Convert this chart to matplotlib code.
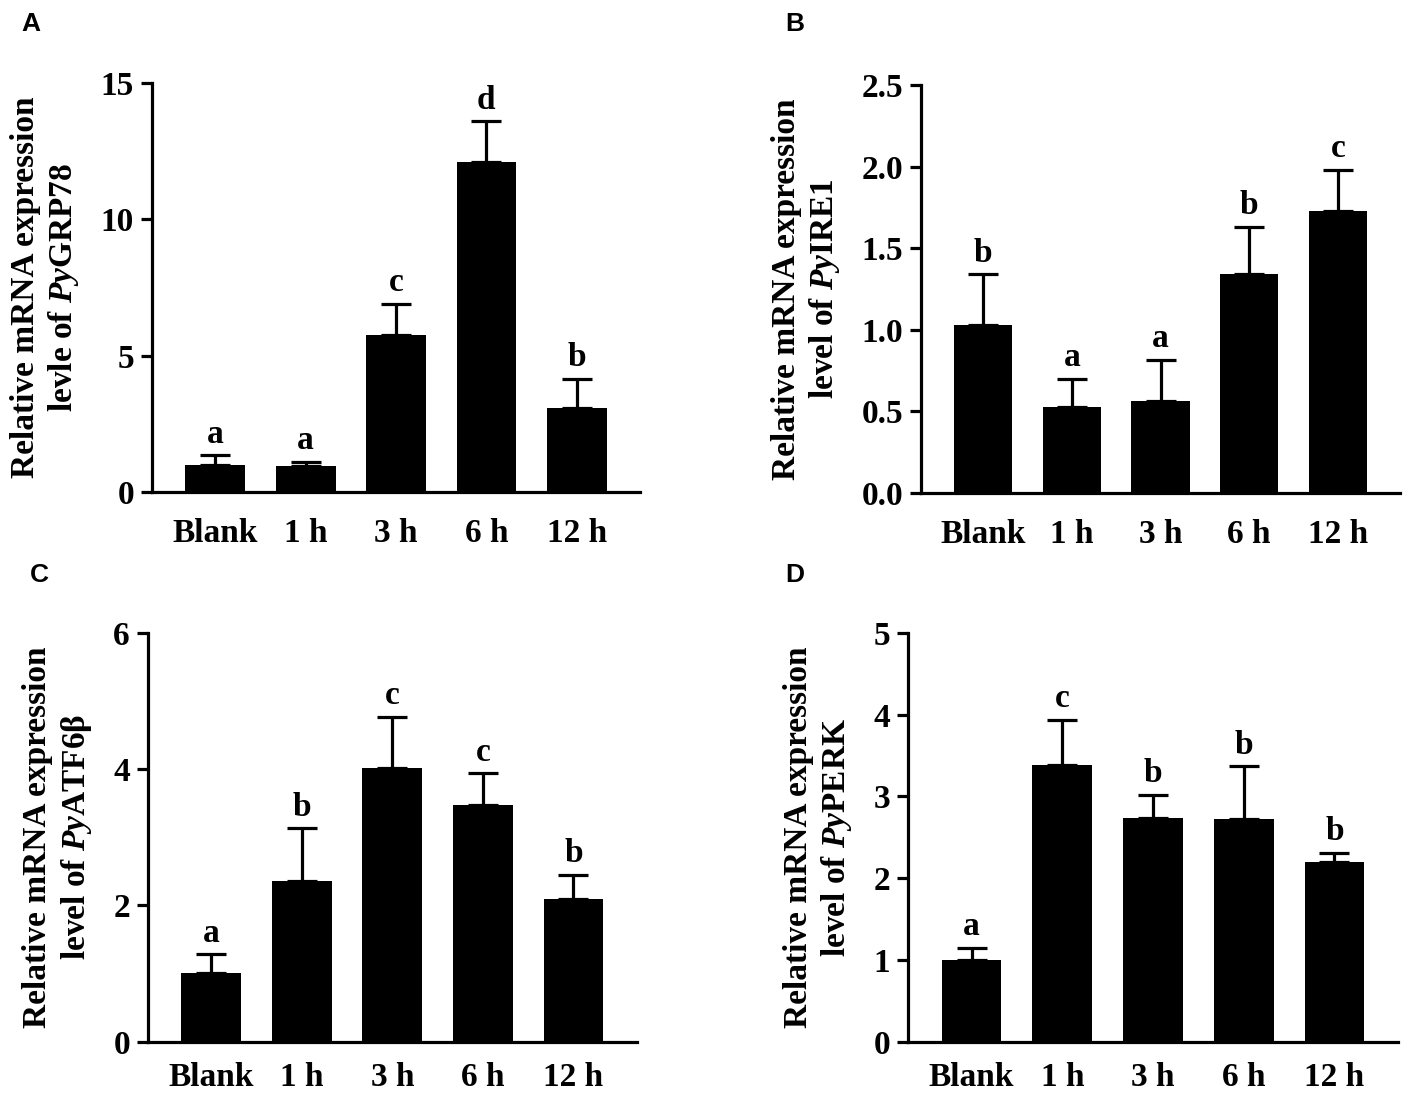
import matplotlib
matplotlib.use("Agg")
import matplotlib.pyplot as plt
import numpy as np

plt.rcParams['font.family'] = ['Liberation Serif', 'DejaVu Serif']
plt.rcParams['font.weight'] = 'bold'
plt.rcParams['mathtext.fontset'] = 'custom'
plt.rcParams['mathtext.it'] = 'Liberation Serif:italic:bold'
plt.rcParams['mathtext.rm'] = 'Liberation Serif:bold'
plt.rcParams['mathtext.bf'] = 'Liberation Serif:bold'

categories = ["Blank", "1 h", "3 h", "6 h", "12 h"]

grp78_mean = [1.0, 0.95, 5.75, 12.1, 3.1]
grp78_err = [0.35, 0.15, 1.15, 1.5, 1.05]
grp78_sig = ["a", "a", "c", "d", "b"]

ire1_mean = [1.03, 0.525, 0.565, 1.34, 1.73]
ire1_err = [0.31, 0.175, 0.25, 0.29, 0.25]
ire1_sig = ["b", "a", "a", "b", "c"]

atf6_mean = [1.0, 2.36, 4.01, 3.47, 2.1]
atf6_err = [0.28, 0.77, 0.76, 0.47, 0.35]
atf6_sig = ["a", "b", "c", "c", "b"]

perk_mean = [1.0, 3.39, 2.74, 2.72, 2.2]
perk_err = [0.15, 0.55, 0.28, 0.65, 0.11]
perk_sig = ["a", "c", "b", "b", "b"]

panels = [
    dict(letter="A", mean=grp78_mean, err=grp78_err, sig=grp78_sig,
         ylim=15, ticks=[0, 5, 10, 15], fmt="{:.0f}",
         ylabel="Relative mRNA expression\nlevle of $\\mathit{Py}$GRP78",
         rect=[0.1073, 0.5531, 0.3444, 0.3715], lpos=(0.022, 0.978), xpad=19),
    dict(letter="B", mean=ire1_mean, err=ire1_err, sig=ire1_sig,
         ylim=2.5, ticks=[0, 0.5, 1.0, 1.5, 2.0, 2.5], fmt="{:.1f}",
         ylabel="Relative mRNA expression\nlevel of $\\mathit{Py}$IRE1",
         rect=[0.650, 0.5522, 0.338, 0.3706], lpos=(0.561, 0.978), xpad=19),
    dict(letter="C", mean=atf6_mean, err=atf6_err, sig=atf6_sig,
         ylim=6, ticks=[0, 2, 4, 6], fmt="{:.0f}",
         ylabel="Relative mRNA expression\nlevel of $\\mathit{Py}$ATF6β",
         rect=[0.1044, 0.054, 0.345, 0.3711], lpos=(0.028, 0.478), xpad=15),
    dict(letter="D", mean=perk_mean, err=perk_err, sig=perk_sig,
         ylim=5, ticks=[0, 1, 2, 3, 4, 5], fmt="{:.0f}",
         ylabel="Relative mRNA expression\nlevel of $\\mathit{Py}$PERK",
         rect=[0.6408, 0.054, 0.3458, 0.3711], lpos=(0.561, 0.478), xpad=15),
]

fig = plt.figure(figsize=(14.17, 11.01), dpi=100)

for p in panels:
    ax = fig.add_axes(p["rect"])
    x = np.arange(len(categories))
    ax.errorbar(x, p["mean"], yerr=[np.zeros(len(x)), p["err"]], fmt="none",
                ecolor="black", elinewidth=2.3, capsize=11, capthick=2.3, zorder=1)
    ax.bar(x, p["mean"], width=0.66, color="black", linewidth=0, zorder=2)
    for xi, m, e, s in zip(x, p["mean"], p["err"], p["sig"]):
        ax.annotate(s, (xi, m + e), xytext=(0, 4), textcoords="offset points",
                    ha="center", va="bottom", fontsize=24, fontweight="bold")
    ax.set_xlim(-0.7, 4.7)
    ax.set_ylim(0, p["ylim"])
    ax.set_yticks(p["ticks"])
    ax.set_yticklabels([p["fmt"].format(t) for t in p["ticks"]])
    ax.set_xticks(x)
    ax.set_xticklabels(categories)
    for side in ["top", "right"]:
        ax.spines[side].set_visible(False)
    for side in ["left", "bottom"]:
        ax.spines[side].set_linewidth(2.3)
    ax.tick_params(axis="y", length=8, width=2.3, labelsize=24, pad=5)
    ax.tick_params(axis="x", length=0, labelsize=24, pad=p["xpad"])
    for lab in ax.get_xticklabels() + ax.get_yticklabels():
        lab.set_fontweight("bold")
    ax.set_ylabel(p["ylabel"], fontsize=24, fontweight="bold", labelpad=14,
                  linespacing=1.2)
    fig.text(p["lpos"][0], p["lpos"][1], p["letter"], fontsize=19,
             fontweight="bold", family="Liberation Sans", ha="center", va="center")

fig.savefig("out.png", dpi=100)
